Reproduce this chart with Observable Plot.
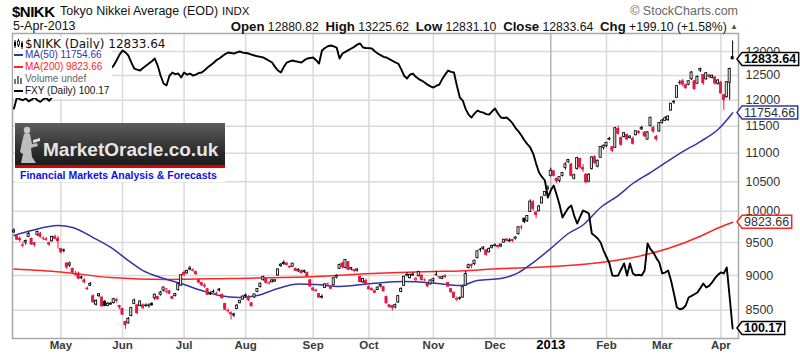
<!DOCTYPE html>
<html><head><meta charset="utf-8">
<script src="https://cdn.jsdelivr.net/npm/d3@7"></script>
<script src="https://cdn.jsdelivr.net/npm/@observablehq/plot@0.6"></script>
<style>
body{margin:0;background:#fff;}
#wrap{position:relative;width:800px;height:360px;overflow:hidden;font-family:Arial,"Liberation Sans",sans-serif;color:#000;}
#wrap svg{position:absolute;left:0;top:0;}
.abs{position:absolute;white-space:nowrap;}
.row{position:absolute;left:13px;height:12px;line-height:12px;background:#fff;white-space:nowrap;padding-right:2px;}
.row svg{position:static !important;vertical-align:middle;margin-right:2px;}
</style></head><body><div id="wrap"></div>
<script>
// ---------- DATA (daily, Apr 6 2012 .. Apr 5 2013, trading days) ----------
const closes = [
9688,9546,9538,9458,9524,9637,9470,9464,9667,9588,9561,9542,9468,9590,9561,9520,
9350,9380,9119,9181,9045,9009,8953,8973,8900,8801,8876,8611,8633,8729,8556,8563,8593,8593,8657,8633,8542,
8440,8295,8383,8533,8639,8459,8625,8536,8568,8568,8569,8721,8655,8752,8824,8798,8735,8663,8730,8874,9006,
9003,9066,9104,9079,9020,8896,8857,8851,8720,8724,8755,8726,8795,8669,8508,8488,8443,8443,8566,8635,8695,
8711,8640,8555,8726,8803,8881,8978,8891,8885,8929,8929,9092,9162,9171,9156,9131,9178,9070,9085,9033,9069,8984,8839,
8783,8775,8679,8680,8871,8869,8807,8959,8995,9159,9123,9232,9086,9110,9069,9091,8906,8949,8870,
8797,8786,8746,8824,8863,8769,8596,8546,8534,8577,8701,8806,8982,9002,9010,9014,8954,9055,8933,8929,8841,8928,
8946,9007,8975,8975,8972,8837,8757,8676,8661,8664,8829,9024,9153,9142,9222,9366,9388,9423,9308,9400,9446,
9458,9432,9468,9545,9527,9533,9525,9581,9742,9737,9828,9923,10161,10039,9940,10080,10230,10322,10395,
10688,10599,10508,10578,10652,10801,10879,10600,10610,10913,10747,10710,10487,10620,10926,10824,10866,11113,11138,
11191,11260,11046,11463,11357,11153,11369,11251,11307,11173,11407,11372,11468,11309,11385,11662,11398,11254,11559,
11606,11652,11683,11932,11968,12283,12349,12314,12239,12381,12560,12220,12468,12635,12338,12546,12471,12493,12336,12397,
12135,12003,12362,12634.54,12833.64];
const opens = [
9660,9600,9560,9450,9500,9590,9560,9490,9620,9640,9560,9550,9490,9520,9590,9560,
9400,9370,9180,9150,9100,9010,9030,8960,8930,8810,8850,8700,8580,8700,8680,8620,8560,8580,8600,8650,8560,
8520,8340,8320,8420,8590,8570,8560,8570,8560,8560,8590,8670,8690,8720,8780,8760,8770,8690,8700,8790,8850,
9040,9030,9090,9070,9050,8930,8890,8840,8800,8740,8760,8730,8780,8720,8590,8490,8460,8430,8520,8600,8650,
8700,8690,8600,8680,8760,8830,8930,8950,8880,8900,8910,9000,9140,9190,9180,9120,9130,9100,9060,9070,9050,9040,8930,
8810,8780,8730,8690,8820,8870,8830,8860,8970,9100,9180,9110,9200,9090,9080,9070,8980,8900,8920,
8830,8800,8770,8790,8840,8830,8690,8570,8560,8540,8610,8760,8850,9010,8960,9000,8930,8990,9000,8930,8880,8870,
8920,9010,8970,8950,8990,8890,8800,8750,8650,8670,8680,8850,9110,9160,9170,9260,9390,9400,9380,9350,9420,
9450,9450,9440,9500,9550,9520,9540,9560,9630,9740,9880,9840,9990,10150,9980,10000,10130,10260,10370,
10600,10680,10550,10510,10600,10740,10840,10800,10550,10720,10900,10740,10620,10500,10720,10930,10760,10920,11100,
11130,11250,11110,11100,11450,11280,11300,11340,11280,11260,11330,11390,11440,11380,11250,11500,11470,11300,11400,
11560,11600,11620,11800,11960,12050,12350,12380,12300,12310,12420,12380,12330,12600,12510,12420,12500,12450,12460,12330,
12350,12100,12060,12350,12880.82];
const highs = [
9720,9620,9590,9500,9540,9660,9570,9500,9680,9660,9590,9580,9510,9600,9620,9600,
9410,9400,9190,9200,9110,9060,9050,8990,8950,8830,8900,8720,8650,8740,8690,8640,8610,8610,8670,8660,8570,
8530,8350,8400,8540,8660,8580,8630,8590,8590,8590,8610,8730,8700,8770,8830,8810,8780,8700,8740,8880,9010,
9070,9080,9136,9100,9070,8950,8900,8880,8810,8760,8790,8760,8810,8730,8600,8520,8480,8460,8580,8640,8700,
8730,8710,8610,8730,8810,8890,8990,8960,8910,8940,8940,9100,9180,9220,9190,9140,9180,9110,9100,9080,9080,9050,8940,
8830,8800,8740,8720,8880,8890,8840,8970,9010,9170,9200,9240,9210,9120,9090,9100,8990,8960,8950,
8850,8820,8790,8830,8870,8840,8700,8580,8570,8590,8710,8820,8990,9040,9020,9040,8970,9060,9010,8950,8890,8930,
8960,9060,8990,8990,9010,8900,8810,8760,8690,8690,8840,9060,9170,9170,9230,9370,9410,9440,9390,9420,9460,
9480,9460,9480,9550,9560,9560,9550,9590,9750,9770,9890,9930,10190,10180,10000,10100,10240,10330,10430,
10734,10690,10560,10580,10660,10830,10890,10820,10630,10930,10910,10800,10640,10640,10940,10960,10880,11120,11150,
11200,11290,11120,11480,11500,11300,11380,11350,11320,11300,11410,11420,11500,11400,11400,11670,11500,11330,11570,
11630,11680,11700,11940,12000,12290,12400,12420,12320,12390,12580,12400,12490,12650,12520,12560,12520,12510,12470,12420,
12380,12120,12370,12650,13225.62];
const lows = [
9640,9530,9500,9420,9460,9580,9460,9430,9600,9570,9530,9520,9440,9510,9540,9400,
9320,9340,9090,9120,9020,8990,8940,8940,8880,8780,8840,8600,8560,8680,8540,8550,8550,8570,8590,8600,8510,
8430,8238,8310,8410,8580,8440,8550,8510,8540,8530,8560,8640,8640,8700,8760,8740,8720,8650,8690,8770,8840,
8990,9020,9070,9050,9000,8880,8840,8810,8710,8710,8740,8700,8760,8660,8500,8460,8365,8400,8510,8590,8640,
8680,8620,8550,8670,8750,8820,8920,8880,8860,8890,8900,8990,9120,9150,9140,9100,9120,9060,9050,9020,9030,8970,8830,
8770,8760,8670,8660,8810,8840,8790,8850,8950,9090,9100,9100,9070,9070,9040,9050,8890,8880,8860,
8790,8770,8740,8780,8820,8760,8590,8530,8490,8520,8600,8750,8840,8980,8950,8990,8910,8980,8920,8910,8820,8860,
8890,8990,8940,8940,8960,8830,8740,8670,8620,8640,8670,8840,9100,9100,9150,9250,9350,9380,9290,9340,9400,
9430,9400,9420,9490,9510,9500,9500,9540,9620,9700,9800,9820,9980,10000,9880,9990,10120,10250,10350,
10580,10580,10460,10480,10580,10700,10820,10580,10530,10700,10720,10660,10460,10480,10700,10800,10740,10910,11060,
11100,11230,11010,11090,11330,11130,11280,11230,11260,11150,11320,11340,11420,11290,11240,11490,11370,11220,11390,
11540,11590,11590,11790,11920,12040,12300,12270,12220,12290,12400,12200,12320,12560,12300,12400,12440,12430,12300,12300,
12120,11805,12040,12003,12831.10];
const fxy = [
119.95,120.94,120.80,120.70,120.85,120.60,120.75,120.95,120.70,120.55,
120.80,120.90,120.65,120.95,121.60,121.85,122.00,122.10,122.25,122.30,
122.20,122.40,122.50,122.45,122.60,122.70,122.55,122.80,122.95,122.85,
123.10,123.25,123.40,123.55,123.82,124.30,124.80,125.17,125.00,124.72,
124.10,123.55,123.45,123.37,123.60,123.80,124.00,124.20,124.45,123.82,
122.90,122.20,122.02,122.90,123.19,123.05,123.10,122.74,123.19,123.00,
123.10,122.92,123.00,123.15,123.19,123.40,123.64,123.85,124.05,124.30,
124.45,124.65,124.85,124.99,124.95,124.90,125.00,125.08,124.98,124.95,
124.90,124.80,124.72,124.65,124.60,124.54,124.40,124.25,124.09,123.70,
123.37,123.19,123.70,124.09,124.20,124.27,124.20,124.15,124.09,124.30,
124.45,124.50,124.54,124.30,124.00,125.17,125.40,125.55,125.62,125.55,
125.44,124.45,124.90,125.05,125.20,125.35,125.50,125.70,125.80,125.44,
125.40,125.38,125.35,125.10,124.90,124.75,124.60,124.54,124.40,124.25,
124.10,124.00,123.50,122.90,122.65,123.00,123.10,122.80,122.60,122.47,
122.30,122.10,121.95,121.84,122.00,122.10,122.60,123.00,123.37,123.25,
123.19,122.00,120.94,120.67,119.90,119.40,119.14,119.50,119.77,119.65,
119.59,119.45,119.41,119.70,119.95,119.50,119.14,119.10,119.14,118.90,
118.61,118.20,117.90,117.53,117.10,116.75,116.45,115.90,115.00,114.20,
113.80,113.48,111.95,112.60,113.03,112.20,111.30,110.15,110.60,111.00,
111.23,110.30,109.61,110.20,110.78,110.65,110.51,108.71,108.50,108.26,
107.90,107.18,106.60,106.02,104.94,104.90,104.94,105.50,106.02,104.94,
106.02,105.12,104.95,105.00,104.94,105.39,107.81,107.30,107.00,106.50,
106.11,105.12,105.20,105.39,104.49,103.30,102.06,101.90,101.97,102.24,
102.96,103.10,103.25,103.41,103.80,104.22,103.86,104.00,104.31,104.70,
105.00,105.21,105.12,105.66,102.96,100.17];
// moving averages (trading-day index, value)
const ma50Day = [0,6,15,20,27,33,39,44,50,57,64,70,77,83,90,97,103,111,122,133,143,152,158,166,172,177,183,189,194,200,206,211,217,228,234,240,245];
const ma50 = [9611,9690,9770,9738,9579,9424,9224,9074,8970,8883,8781,8709,8681,8709,8810,8876,8868,8839,8883,8912,8890,8853,8926,8956,9044,9194,9408,9643,9778,10063,10263,10468,10658,11032,11215,11438,11754.66];
const ma200Day = [0,16,33,52,73,103,122,143,152,166,177,189,200,211,223,234,240,245];
const ma200 = [9097,9052,8970,8941,8956,8985,9030,9059,9067,9104,9119,9149,9194,9270,9408,9600,9730,9823.66];
const monthLabels = ["May","Jun","Jul","Aug","Sep","Oct","Nov","Dec","2013","Feb","Mar","Apr"];
const monthDays = [16,21,21,21,23,19,22,21,19,19,19,20,5]; // trading days: Apr(part) .. Apr(part)
const priceTicks = [8500,9000,9500,10000,10500,11000,11500,12000,12500,13000];

// ---------- BUILD ----------
const RED = "#e3173e", BLUE = "#3434a4", MARED = "#ff2424";
const candles = closes.map((c,i)=>{
  const col = (i>0 && c<closes[i-1]) ? RED : "#000";
  return {i, o:opens[i], h:highs[i], l:lows[i], c, col, fill: c<opens[i] ? col : "#e4e4e4"};
});
let acc = 0;
const monthTicks = monthLabels.map((label,k)=>{acc += monthDays[k]; return {i:acc, label};});
const ma50Rows = ma50Day.map((d,k)=>({i:d, v:ma50[k]}));
const ma200Rows = ma200Day.map((d,k)=>({i:d, v:ma200[k]}));
const fxyRows = fxy.map((v,i)=>({i, v}));

const W=800, H=360, MT=33, MR=62, MB=22, ML=12;
const xDom = [-0.5, 247];
const wrap = document.getElementById("wrap");

const main = Plot.plot({
  width:W, height:H, marginTop:MT, marginRight:MR, marginBottom:MB, marginLeft:ML,
  style:{background:"#fff", fontFamily:"Arial, 'Liberation Sans', sans-serif", fontSize:"12.5px", color:"#333"},
  x:{domain:xDom, axis:null},
  y:{type:"log", domain:[8116,13391], axis:"right", ticks:priceTicks, tickFormat:d=>String(d), tickSize:0, tickPadding:7, label:null},
  color:{type:"identity"},
  marks:[
    Plot.ruleY(priceTicks,{stroke:"#dadada", strokeWidth:1.5}),
    Plot.ruleX(monthTicks.filter(d=>d.label!=="2013"),{x:"i", stroke:"#dadada", strokeWidth:1.5}),
    Plot.ruleX(monthTicks.filter(d=>d.label==="2013"),{x:"i", stroke:"#b5b5b5", strokeWidth:1.5}),
    Plot.frame({stroke:"#a8a8a8", strokeWidth:1.5}),
    Plot.line(ma200Rows,{x:"i", y:"v", stroke:MARED, strokeWidth:1.5, curve:"monotone-x"}),
    Plot.line(ma50Rows,{x:"i", y:"v", stroke:BLUE, strokeWidth:1.5, curve:"monotone-x"}),
    Plot.ruleX(candles,{x:"i", y1:"l", y2:"h", stroke:"col", strokeWidth:1}),
    Plot.rect(candles,{x1:d=>d.i-0.36, x2:d=>d.i+0.36, y1:"o", y2:"c", fill:"fill", stroke:"col", strokeWidth:0.8}),
    Plot.text(monthTicks.filter(d=>d.label!=="2013"),{x:"i", text:"label", frameAnchor:"bottom", dy:10, fontSize:11.5, fontWeight:"bold", fill:"#3a3a3a"}),
    Plot.text(monthTicks.filter(d=>d.label==="2013"),{x:"i", text:"label", frameAnchor:"bottom", dy:10, fontSize:13, fontWeight:"bold", fill:"#000"})
  ]
});
wrap.appendChild(main);

const over = Plot.plot({
  width:W, height:H, marginTop:MT, marginRight:MR, marginBottom:MB, marginLeft:ML,
  style:{background:"transparent", fontFamily:"Arial, 'Liberation Sans', sans-serif"},
  x:{domain:xDom, axis:null},
  y:{domain:[99.27,126.70], axis:null},
  marks:[ Plot.line(fxyRows,{x:"i", y:"v", stroke:"#000", strokeWidth:1.9, strokeLinejoin:"round"}) ]
});
wrap.appendChild(over);

function yFn(plot){
  const s = plot.scale("y");
  if (s && typeof s.apply === "function") return v=>s.apply(v);
  return (s.type==="log" ? d3.scaleLog() : d3.scaleLinear()).domain(s.domain).range(s.range);
}
function tag(svg, y, txt, border, color, bold){
  const g = d3.select(svg).append("g").attr("text-anchor","start");
  const t = g.append("text").attr("x",744).attr("y",y).attr("dy","0.36em").attr("text-anchor","start")
    .attr("font-family","Arial, 'Liberation Sans', sans-serif").attr("font-size",12.5)
    .attr("font-weight",bold?"bold":"normal").attr("fill",color).text(txt);
  const w = t.node().getComputedTextLength();
  g.insert("path","text").attr("d",`M737,${y} L742,${y-6.5} H${744+w+2.5} V${y+6.5} H742 Z`)
    .attr("fill","#fff").attr("stroke",border).attr("stroke-width",1.5);
}
const ym = yFn(main), yo = yFn(over);
const last = closes.length-1;
tag(main, ym(closes[last]), closes[last].toFixed(2), "#000", "#000", true);
tag(main, ym(ma50.at(-1)), ma50.at(-1).toFixed(2), BLUE, "#333", false);
tag(main, ym(ma200.at(-1)), ma200.at(-1).toFixed(2), MARED, "#333", false);
tag(over, yo(fxy.at(-1)), fxy.at(-1).toFixed(2), "#000", "#000", true);

// ---------- HEADER / LEGEND / LOGO (HTML overlays) ----------
function add(html){ wrap.insertAdjacentHTML("beforeend", html); }
const chg = closes[last]-closes[last-1], pct = chg/closes[last-1]*100;
add(`<div class="abs" style="left:12px;top:3px;font:bold 15px Arial,'Liberation Sans';letter-spacing:-0.5px;">$NIKK</div>`);
add(`<div class="abs" style="left:60px;top:4px;font:12.5px Arial,'Liberation Sans';color:#111">Tokyo Nikkei Average (EOD)</div>`);
add(`<div class="abs" style="left:222px;top:5px;font:11.5px Arial,'Liberation Sans';color:#111">INDX</div>`);
add(`<div class="abs" style="left:13px;top:19px;font:12.5px Arial,'Liberation Sans';color:#111">5-Apr-2013</div>`);
add(`<div class="abs" style="right:62px;top:4px;font:12.5px Arial,'Liberation Sans';color:#666">&copy; StockCharts.com</div>`);
add(`<div class="abs" style="right:62px;top:19px;font:12.2px Arial,'Liberation Sans';color:#111"><b style="font-size:13.2px">Open</b> ${opens[last].toFixed(2)}&nbsp; <b style="font-size:13.2px">High</b> ${highs[last].toFixed(2)}&nbsp; <b style="font-size:13.2px">Low</b> ${lows[last].toFixed(2)}&nbsp; <b style="font-size:13.2px">Close</b> ${closes[last].toFixed(2)}&nbsp; <b style="font-size:13.2px">Chg</b> ${(chg>=0?"+":"")+chg.toFixed(2)} (${(pct>=0?"+":"")+pct.toFixed(2)}%) <span style="font-size:8px;color:#555;vertical-align:2px">&#9650;</span></div>`);

const dash = c => `<svg width="10" height="10"><line x1="1" x2="10" y1="5" y2="5" stroke="${c}" stroke-width="2"/></svg>`;
const candleIcon = `<svg width="10" height="10"><line x1="2" x2="2" y1="1" y2="9" stroke="#000"/><rect x="1" y="3" width="2" height="4" fill="#000"/><line x1="5.5" x2="5.5" y1="0" y2="8" stroke="#000"/><rect x="4.5" y="2" width="2" height="4" fill="#fff" stroke="#000" stroke-width="0.8"/><line x1="9" x2="9" y1="2" y2="10" stroke="#000"/><rect x="8" y="4" width="2" height="4" fill="#000"/></svg>`;
const volIcon = `<svg width="10" height="10"><rect x="1" y="5" width="2" height="5" fill="#777"/><rect x="4" y="2" width="2" height="8" fill="#777"/><rect x="7" y="4" width="2" height="6" fill="#777"/></svg>`;
add(`<div class="row" style="top:36.5px;font:12px 'DejaVu Sans',Verdana;color:#111">${candleIcon}$NIKK (Daily) ${closes[last].toFixed(2)}</div>`);
add(`<div class="row" style="top:49px;min-width:97px;font:10px Arial,'Liberation Sans';color:${BLUE}">${dash(BLUE)}MA(50) ${ma50.at(-1).toFixed(2)}</div>`);
add(`<div class="row" style="top:61px;min-width:97px;font:10px Arial,'Liberation Sans';color:${MARED}">${dash(MARED)}MA(200) ${ma200.at(-1).toFixed(2)}</div>`);
add(`<div class="row" style="top:73px;min-width:97px;font:10px Arial,'Liberation Sans';color:#666">${volIcon}Volume undef</div>`);
add(`<div class="row" style="top:85px;height:12.5px;min-width:97px;font:10px Arial,'Liberation Sans';color:#111">${dash("#000")}FXY (Daily) ${fxy.at(-1).toFixed(2)}</div>`);

// MarketOracle logo
add(`<div class="abs" style="left:15px;top:123px;width:210px;height:42px;background:linear-gradient(#5e5e5e,#2a2a2a 70%,#1c1c1c);"></div>`);
add(`<div class="abs" style="left:15px;top:124px;"><svg width="30" height="41" style="position:static"><circle cx="12" cy="6" r="3.2" fill="#c8c8c8"/><path d="M9,10 Q12,8 15,10 L17,20 L22,19 L23,22 L16,24 L17,33 L21,39 L6,39 L8,30 L5,28 L7,18 Z" fill="#bdbdbd"/><path d="M18,16 L25,14 L25,17 L18,19 Z" fill="#e0e0e0"/></svg></div>`);
add(`<div class="abs" style="left:43px;top:139px;font:bold 19px Arial,'Liberation Sans';color:#e6e6e6;line-height:22px">MarketOracle.co.uk</div>`);
add(`<div class="abs" style="left:15px;top:165px;width:210px;height:3px;background:#e00000;"></div>`);
add(`<div class="abs" style="left:15px;top:168px;width:210px;height:14px;background:#fff;"></div>`);
add(`<div class="abs" style="left:20px;top:169px;font:bold 10.5px Arial,'Liberation Sans';color:#1010e8;line-height:13px">Financial Markets Analysis &amp; Forecasts</div>`);
</script></body></html>
